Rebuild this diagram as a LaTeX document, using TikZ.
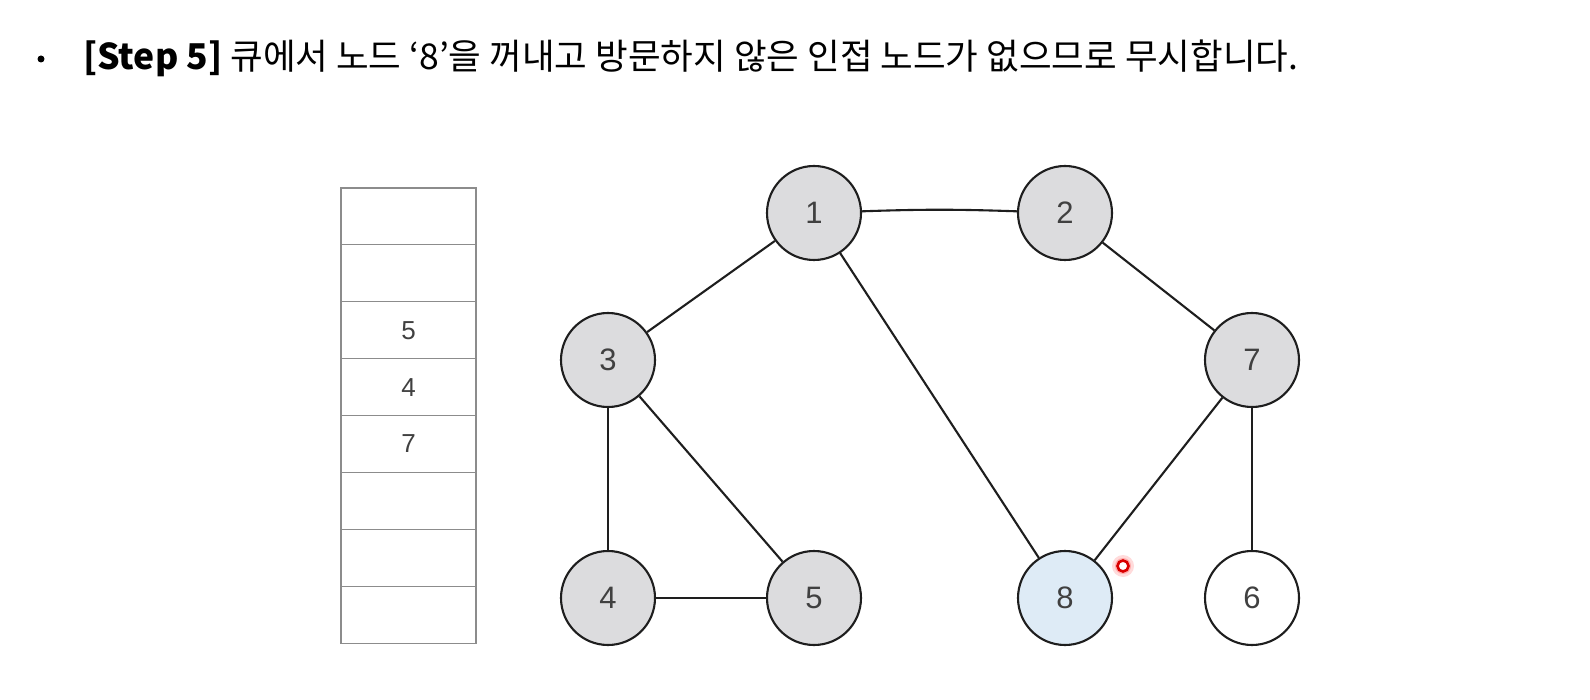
\documentclass[tikz,border=0pt]{standalone}
\usepackage{fontspec}
\setmainfont{Noto Sans CJK KR}
\newfontfamily\digitfont{Liberation Sans}
\usepackage{xcolor}
\definecolor{visitcolor}{HTML}{DCDCDE}
\definecolor{popcolor}{HTML}{DEEBF6}
\definecolor{edgecolor}{HTML}{1E1E1E}
\definecolor{labelcolor}{HTML}{404040}
\definecolor{cellcolor}{HTML}{8C8C8C}
\usepackage{tikz}
\usetikzlibrary{positioning}

\tikzset{
  vertex/.style={circle, draw=edgecolor, line width=2.1pt, minimum size=94pt,
    inner sep=0pt, text=labelcolor, font=\digitfont\fontsize{31}{31}\selectfont},
  visited/.style={vertex, fill=visitcolor},
  popped/.style={vertex, fill=popcolor},
  fresh/.style={vertex, fill=white},
  edge/.style={draw=edgecolor, line width=2.1pt},
  cellbox/.style={rectangle, draw=cellcolor, line width=1.2pt, minimum width=135pt,
    minimum height=56.9pt, inner sep=0pt, text=labelcolor,
    font=\digitfont\fontsize{26}{26}\selectfont}
}

\begin{document}
\begin{tikzpicture}[x=1pt, y=-1pt]
  \useasboundingbox[fill=white] (0,0) rectangle (1590,700);

  % title line
  \node[circle, fill=black, inner sep=0pt, minimum size=7pt] (bullet) at (41,59) {};
  \node[anchor=west, inner sep=0pt, font=\fontsize{35.5}{35.5}\selectfont] (title) at (83,58)
    {\textbf{[Step 5]} 큐에서 노드 ‘8’을 꺼내고 방문하지 않은 인접 노드가 없으므로 무시합니다.};

  % queue
  \foreach \i/\val in {1/,2/,3/5,4/4,5/7,6/,7/,8/}
    \node[cellbox] (q\i) at (408.5, 188+56.9*\i-28.45) {\val};

  % graph nodes
  \node[visited] (n1) at (814,213) {1};
  \node[visited] (n2) at (1065,213) {2};
  \node[visited] (n3) at (608,360) {3};
  \node[visited] (n7) at (1252,360) {7};
  \node[visited] (n4) at (608,598) {4};
  \node[visited] (n5) at (814,598) {5};
  \node[popped] (n8) at (1065,598) {8};
  \node[fresh] (n6) at (1252,598) {6};

  % edges
  \draw[edge] (n1) to[bend left=2] (n2);
  \draw[edge] (n1) -- (n3);
  \draw[edge] (n1) -- (n8);
  \draw[edge] (n2) -- (n7);
  \draw[edge] (n3) -- (n4);
  \draw[edge] (n3) -- (n5);
  \draw[edge] (n4) -- (n5);
  \draw[edge] (n7) -- (n8);
  \draw[edge] (n7) -- (n6);

  % pointer mark
  \fill[red!20, opacity=0.7] (1123,566) circle (11pt);
  \fill[red!45, opacity=0.6] (1123,566) circle (8pt);
  \node[circle, draw=red!85!black, fill=white, line width=2.6pt, minimum size=11pt,
    inner sep=0pt] (cursor) at (1123,566) {};
\end{tikzpicture}
\end{document}
